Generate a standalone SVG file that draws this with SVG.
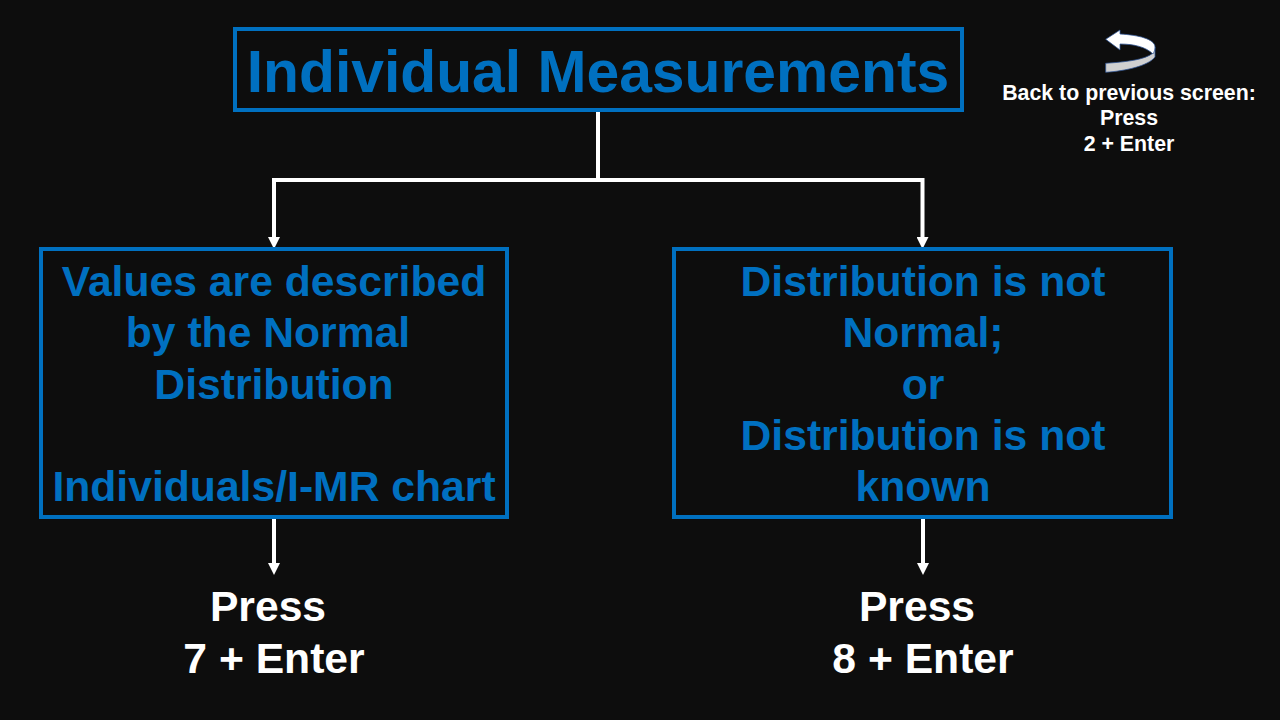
<svg xmlns="http://www.w3.org/2000/svg" width="1280" height="720" viewBox="0 0 1280 720">
<style>
.box{fill:none;stroke:#0070c0;stroke-width:4}
.t{font-family:"Liberation Sans",Arial,sans-serif;font-weight:700;text-anchor:middle}
.h{fill:#0070c0;font-size:58.8px}
.b{fill:#0070c0;font-size:42.67px}
.w{fill:#fff;font-size:42.67px}
.s{fill:#fff;font-size:21.33px}
.c{fill:none;stroke:#fff;stroke-width:4}
.i{stroke:#2f5597;stroke-width:.75;stroke-linejoin:round}
</style>
<defs><marker id="a" markerUnits="userSpaceOnUse" markerWidth="12" markerHeight="12" refX="0" refY="6" orient="auto"><path d="M0 0L12 6L0 12Z" fill="#fff"/></marker></defs>
<rect width="1280" height="720" fill="#0d0d0d"/>
<g id="connectors">
<path class="c" d="M598 110V180"/>
<path class="c" d="M598 180H274V237" marker-end="url(#a)"/>
<path class="c" d="M598 180H922.500V237" marker-end="url(#a)"/>
<path class="c" d="M274 517V563" marker-end="url(#a)"/>
<path class="c" d="M923 517V563" marker-end="url(#a)"/>
</g>
<g id="title"><rect class="box" x="235" y="29" width="727" height="81"/><text class="t h" x="598" y="91.500">Individual Measurements</text></g>
<g id="left"><rect class="box" x="41" y="249" width="466" height="268"/>
<text class="t b" x="274" y="295.700">Values are described</text><text class="t b" x="268" y="347.300">by the Normal</text><text class="t b" x="274" y="398.700">Distribution</text><text class="t b" x="274" y="501.300">Individuals/I-MR chart</text></g>
<g id="right"><rect class="box" x="674" y="249" width="497" height="268"/>
<text class="t b" x="923" y="295.700">Distribution is not</text><text class="t b" x="923" y="347.300">Normal;</text><text class="t b" x="923" y="398.700">or</text><text class="t b" x="923" y="449.700">Distribution is not</text><text class="t b" x="923" y="501.300">known</text></g>
<g id="press7"><text class="t w" x="268" y="621.300">Press</text><text class="t w" x="274" y="673">7 + Enter</text></g>
<g id="press8"><text class="t w" x="917" y="621.300">Press</text><text class="t w" x="923" y="673">8 + Enter</text></g>
<g id="back">
<path class="i" d="M1105.700 63.300C1125 62 1145 60 1153 53L1155 47V57C1148 66 1125 71 1105.700 72.300Z" fill="#d0d0d0"/>
<path class="i" d="M1105.700 39.300L1120 30V34C1138 35 1155 39 1155 47C1155 50 1154 52 1153 54C1146 47 1134 44 1120 44V50Z" fill="#fff"/>
<text class="t s" x="1129" y="100.400">Back to previous screen:</text><text class="t s" x="1129" y="125.400">Press</text><text class="t s" x="1129" y="151">2 + Enter</text></g>
</svg>
